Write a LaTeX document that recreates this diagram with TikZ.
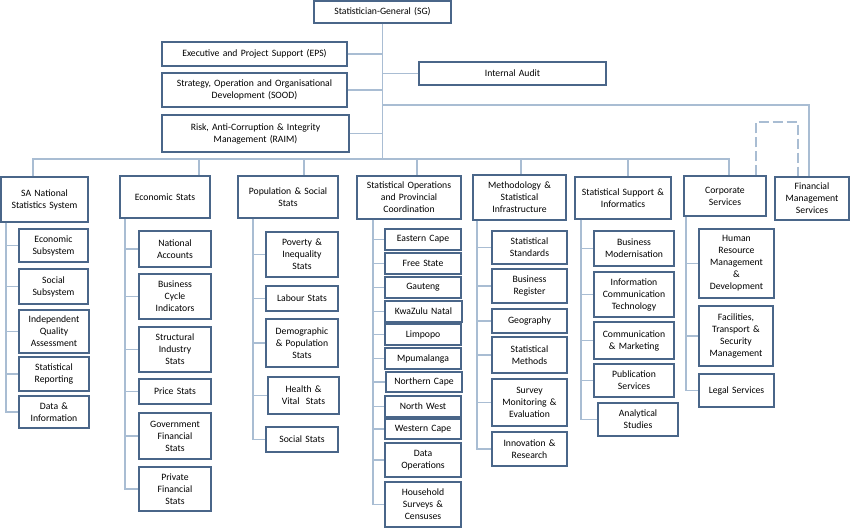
\documentclass[tikz,border=0pt]{standalone}
\usepackage{fontspec}
\setmainfont{Carlito}
\definecolor{bord}{HTML}{4A6689}
\definecolor{conn}{HTML}{A9BDD3}
\tikzset{
  box/.style={draw=bord, line width=1.2pt, fill=white, inner sep=1pt, align=center,
    font=\fontsize{9.7}{12}\selectfont, text=black},
  conn/.style={draw=conn, line width=1.1pt},
  dashline/.style={draw=conn, line width=1.1pt, dash pattern=on 10pt off 4pt}
}
\newcommand\obox[6]{%
  \pgfmathsetmacro\oboxw{#4-#2}\pgfmathsetmacro\oboxh{#5-#3}\pgfmathsetmacro\oboxt{#4-#2-4}%
  \node[box, minimum width=\oboxw pt, minimum height=\oboxh pt, text width=\oboxt pt] (#1) at ({(#2+#4)/2},{(#3+#5)/2}) {#6};}
\begin{document}
\begin{tikzpicture}[x=1pt,y=-1pt]
\useasboundingbox (0,0) rectangle (850,529);
% top
\obox{sg}{314}{1}{451}{23}{Statistician-General (SG)}
\obox{eps}{162}{42}{347}{66}{Executive and Project Support (EPS)}
\obox{sood}{162}{73}{347}{107}{Strategy, Operation and Organisational\\Development (SOOD)}
\obox{raim}{162}{115}{349}{152}{Risk, Anti-Corruption \& Integrity\\Management (RAIM)}
\obox{ia}{419}{62}{606}{85}{Internal Audit}
% headers
\obox{h1}{1}{177}{88}{222}{SA National\\Statistics System}
\obox{h2}{120}{176}{210}{218}{Economic Stats}
\obox{h3}{238}{176}{338}{218}{Population \& Social\\Stats}
\obox{h4}{357}{176}{461}{219}{Statistical Operations\\and Provincial\\Coordination}
\obox{h5}{473}{175}{566}{220}{Methodology \&\\Statistical\\Infrastructure}
\obox{h6}{575}{177}{671}{219}{Statistical Support \&\\Informatics}
\obox{h7}{684}{176}{766}{216}{Corporate\\Services}
\obox{h8}{775}{177}{849}{220}{Financial\\Management\\Services}
% column 1
\obox{a1}{19}{229}{88}{262}{Economic\\Subsystem}
\obox{a2}{19}{269}{88}{304}{Social\\Subsystem}
\obox{a3}{19}{310}{89}{353}{Independent\\Quality\\Assessment}
\obox{a4}{19}{357}{89}{391}{Statistical\\Reporting}
\obox{a5}{19}{396}{89}{428}{Data \&\\Information}
% column 2
\obox{b1}{139}{231}{211}{267}{National\\Accounts}
\obox{b2}{139}{274}{211}{319}{Business\\Cycle\\Indicators}
\obox{b3}{139}{327}{211}{372}{Structural\\Industry\\Stats}
\obox{b4}{139}{379}{211}{404}{Price Stats}
\obox{b5}{139}{413}{211}{459}{Government\\Financial\\Stats}
\obox{b6}{139}{467}{211}{511}{Private\\Financial\\Stats}
% column 3
\obox{c1}{266}{232}{338}{277}{Poverty \&\\Inequality\\Stats}
\obox{c2}{266}{286}{338}{311}{Labour Stats}
\obox{c3}{266}{319}{338}{367}{Demographic\\\& Population\\Stats}
\obox{c4}{268}{377}{339}{414}{Health \&\\Vital~~Stats}
\obox{c5}{266}{427}{338}{452}{Social Stats}
% column 4
\obox{d1}{385}{229}{461}{250}{Eastern Cape}
\obox{d2}{385}{253}{461}{274}{Free State}
\obox{d3}{385}{277}{461}{298}{Gauteng}
\obox{d4}{385}{301}{462}{322}{KwaZulu Natal}
\obox{d5}{385}{324}{461}{345}{Limpopo}
\obox{d6}{385}{348}{461}{369}{Mpumalanga}
\obox{d7}{386}{372}{462}{392}{Northern Cape}
\obox{d8}{385}{396}{461}{417}{North West}
\obox{d9}{385}{419}{461}{439}{Western Cape}
\obox{d10}{385}{443}{461}{477}{Data\\Operations}
\obox{d11}{385}{482}{461}{527}{Household\\Surveys \&\\Censuses}
% column 5
\obox{e1}{492}{231}{567}{264}{Statistical\\Standards}
\obox{e2}{492}{269}{567}{303}{Business\\Register}
\obox{e3}{492}{309}{567}{333}{Geography}
\obox{e4}{492}{337}{567}{373}{Statistical\\Methods}
\obox{e5}{492}{379}{567}{426}{Survey\\Monitoring \&\\Evaluation}
\obox{e6}{492}{432}{567}{466}{Innovation \&\\Research}
% column 6
\obox{f1}{594}{231}{674}{266}{Business\\Modernisation}
\obox{f2}{594}{272}{674}{317}{Information\\Communication\\Technology}
\obox{f3}{594}{322}{674}{359}{Communication\\\& Marketing}
\obox{f4}{594}{364}{674}{397}{Publication\\Services}
\obox{f5}{598}{403}{678}{436}{Analytical\\Studies}
% column 7
\obox{g1}{699}{229}{774}{298}{Human\\Resource\\Management\\\&\\Development}
\obox{g2}{699}{306}{773}{366}{Facilities,\\Transport \&\\Security\\Management}
\obox{g3}{699}{374}{774}{407}{Legal Services}
% connectors
\coordinate (k1) at (33,159);
\coordinate (k2) at (199,159);
\coordinate (k3) at (304,159);
\coordinate (k4) at (417,159);
\coordinate (k5) at (521,159);
\coordinate (k6) at (628,159);
\coordinate (k7) at (729,159);
\coordinate (fb) at (809,105);
\coordinate (dl) at (756,122);
\coordinate (dr) at (798,122);
\coordinate (s1) at (6,0);
\coordinate (s2) at (125,0);
\coordinate (s3) at (253,0);
\coordinate (s4) at (373,0);
\coordinate (s5) at (477,0);
\coordinate (s6) at (581,0);
\coordinate (s7) at (686,0);
\draw[conn] (sg.south) -- (sg.south |- k1);
\foreach \n in {eps,sood,raim} \draw[conn] (\n.east) -- (\n.east -| sg.south);
\draw[conn] (ia.west) -- (ia.west -| sg.south);
\draw[conn] (fb -| sg.south) -- (fb) -- (fb |- h8.north);
\draw[dashline] (dl |- h7.north) -- (dl) -- (dr) -- (dr |- h8.north);
\draw[conn] (k1 |- h1.north) -- (k1) -- (k7) -- (k7 |- h7.north);
\foreach \k/\h in {k2/h2,k3/h3,k4/h4,k5/h5,k6/h6} \draw[conn] (\k) -- (\k |- \h.north);
\draw[conn] (s1 |- h1.south) |- (a5.west);
\foreach \c in {a1,a2,a3,a4} \draw[conn] (\c.west -| s1) -- (\c.west);
\draw[conn] (s2 |- h2.south) |- (b6.west);
\foreach \c in {b1,b2,b3,b4,b5} \draw[conn] (\c.west -| s2) -- (\c.west);
\draw[conn] (s3 |- h3.south) |- (c5.west);
\foreach \c in {c1,c2,c3,c4} \draw[conn] (\c.west -| s3) -- (\c.west);
\draw[conn] (s4 |- h4.south) |- (d11.west);
\foreach \c in {d1,d2,d3,d4,d5,d6,d7,d8,d9,d10} \draw[conn] (\c.west -| s4) -- (\c.west);
\draw[conn] (s5 |- h5.south) |- (e6.west);
\foreach \c in {e1,e2,e3,e4,e5} \draw[conn] (\c.west -| s5) -- (\c.west);
\draw[conn] (s6 |- h6.south) |- (f5.west);
\foreach \c in {f1,f2,f3,f4} \draw[conn] (\c.west -| s6) -- (\c.west);
\draw[conn] (s7 |- h7.south) |- (g3.west);
\foreach \c in {g1,g2} \draw[conn] (\c.west -| s7) -- (\c.west);
\end{tikzpicture}
\end{document}
